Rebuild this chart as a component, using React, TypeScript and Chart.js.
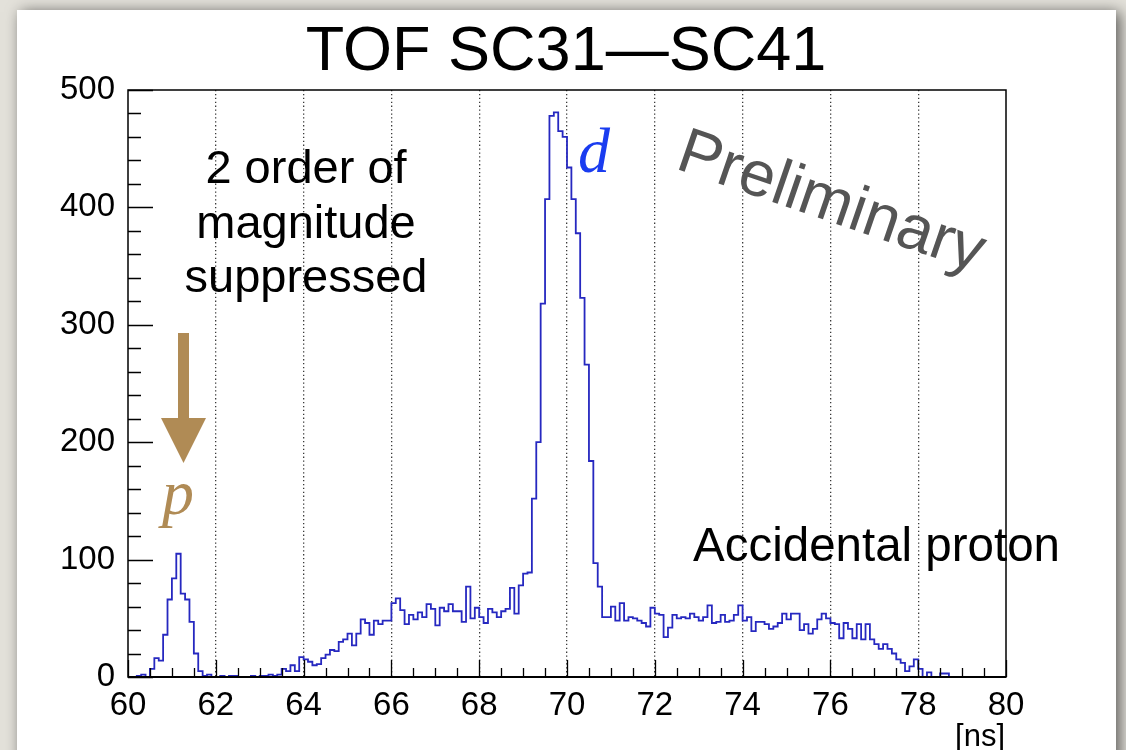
import React, { useEffect, useRef } from "react";
import { Chart, registerables } from "chart.js";

Chart.register(...registerables);

// Histogram binning: 200 bins of 0.1 ns from 60 to 80 ns
const BIN_START = 60;
const BIN_WIDTH = 0.1;
const X_MIN = 60;
const X_MAX = 80;
const Y_MIN = 0;
const Y_MAX = 500;

// Counts per bin (TOF SC31–SC41)
const COUNTS: number[] = [
  0, 0, 1, 2, 0, 7, 16, 14, 36, 66,
  84, 105, 71, 66, 47, 20, 5, 1, 2, 0,
  0, 1, 0, 1, 1, 0, 0, 0, 1, 0,
  1, 1, 2, 1, 2, 7, 5, 10, 5, 17,
  15, 13, 10, 11, 16, 19, 23, 22, 30, 32,
  37, 27, 37, 49, 46, 36, 48, 45, 48, 48,
  63, 67, 57, 45, 53, 49, 55, 51, 62, 58,
  44, 59, 56, 62, 56, 56, 47, 77, 50, 59,
  51, 46, 58, 55, 51, 56, 58, 76, 54, 78,
  88, 89, 152, 200, 318, 407, 478, 481, 465, 460,
  434, 407, 378, 323, 266, 184, 97, 77, 51, 51,
  60, 48, 63, 48, 51, 50, 48, 46, 43, 59,
  54, 53, 34, 42, 53, 50, 51, 50, 54, 51,
  48, 51, 61, 46, 47, 53, 47, 48, 53, 61,
  48, 51, 39, 47, 47, 45, 41, 43, 46, 54,
  49, 54, 54, 40, 45, 37, 41, 49, 54, 50,
  46, 45, 33, 46, 41, 33, 45, 32, 45, 32,
  28, 24, 28, 24, 20, 15, 12, 5, 9, 15,
  7, 0, 4, 0, 0, 3, 3, 0, 0, 0,
  0, 0, 0, 0, 0, 0, 0, 0, 0, 0,
];

// Axis ticks
const X_MAJOR_STEP = 2;
const X_MINOR_STEP = 0.5;
const Y_MAJOR_STEP = 100;
const Y_MINOR_STEP = 20;

// Text
const TITLE = "TOF SC31\u2014SC41";
const X_UNIT = "[ns]";
const NOTE_LINES = ["2 order of", "magnitude", "suppressed"];
const LABEL_D = "d";
const LABEL_P = "p";
const WATERMARK = "Preliminary";
const NOTE_ACCIDENTAL = "Accidental proton";

const SANS = '"Liberation Sans", Arial, Helvetica, sans-serif';
const SERIF = '"Liberation Serif", "Times New Roman", serif';
const BROWN = "#b08b55";

const W = 1126;
const H = 750;

const decorPlugin = {
  id: "decor",
  beforeDraw(chart: any) {
    const ctx = chart.ctx as CanvasRenderingContext2D;
    ctx.save();
    // slide backdrop
    ctx.fillStyle = "#e3e1da";
    ctx.fillRect(0, 0, W, H);
    // white panel with soft shadow
    ctx.shadowColor = "rgba(0,0,0,0.6)";
    ctx.shadowBlur = 14;
    ctx.shadowOffsetX = 4;
    ctx.shadowOffsetY = 2;
    ctx.fillStyle = "#ffffff";
    ctx.fillRect(17, 10, 1116 - 17, H + 40);
    ctx.restore();
  },
  afterDatasetsDraw(chart: any) {
    const ctx = chart.ctx as CanvasRenderingContext2D;
    const area = chart.chartArea;
    const xs = chart.scales.x;
    const ys = chart.scales.y;
    ctx.save();

    // inward tick marks
    ctx.strokeStyle = "#000";
    ctx.lineWidth = 1.3;
    ctx.beginPath();
    for (let v = Y_MIN; v <= Y_MAX + 1e-9; v += Y_MINOR_STEP) {
      const py = Math.round(ys.getPixelForValue(v)) + 0.5;
      const major = Math.abs(v / Y_MAJOR_STEP - Math.round(v / Y_MAJOR_STEP)) < 1e-6;
      const len = major ? 25 : 13;
      ctx.moveTo(area.left, py);
      ctx.lineTo(area.left + len, py);
    }
    for (let v = X_MIN; v <= X_MAX + 1e-9; v += X_MINOR_STEP) {
      const px = Math.round(xs.getPixelForValue(v)) + 0.5;
      const major = Math.abs(v / X_MAJOR_STEP - Math.round(v / X_MAJOR_STEP)) < 1e-6;
      const len = major ? 17 : 9;
      ctx.moveTo(px, area.bottom);
      ctx.lineTo(px, area.bottom - len);
    }
    ctx.stroke();

    // frame
    ctx.lineWidth = 1.5;
    ctx.strokeRect(area.left, area.top, area.right - area.left, area.bottom - area.top);
    ctx.lineWidth = 2.2;
    ctx.beginPath();
    ctx.moveTo(area.left, area.bottom);
    ctx.lineTo(area.right, area.bottom);
    ctx.stroke();

    // title
    ctx.fillStyle = "#000";
    ctx.textAlign = "center";
    ctx.textBaseline = "alphabetic";
    ctx.font = `63px ${SANS}`;
    ctx.fillText(TITLE, (area.left + area.right) / 2 - 1, 70);

    // axis unit
    ctx.textAlign = "right";
    ctx.font = `31px ${SANS}`;
    ctx.fillText(X_UNIT, area.right - 1, 746);

    // note block
    ctx.textAlign = "center";
    ctx.font = `47px ${SANS}`;
    const noteBase = [183, 238, 292];
    NOTE_LINES.forEach((t, i) => ctx.fillText(t, 306, noteBase[i]));

    // accidental protons
    ctx.textAlign = "left";
    ctx.font = `47.5px ${SANS}`;
    ctx.fillText(NOTE_ACCIDENTAL, 693, 561);

    // deuteron label
    ctx.fillStyle = "#1a3cf0";
    ctx.font = `italic 64px ${SERIF}`;
    ctx.fillText(LABEL_D, 578, 172);

    // proton arrow and label
    ctx.fillStyle = BROWN;
    ctx.fillRect(178, 333, 11, 87);
    ctx.beginPath();
    ctx.moveTo(161, 418);
    ctx.lineTo(206, 418);
    ctx.lineTo(183.5, 463);
    ctx.closePath();
    ctx.fill();
    ctx.font = `italic 64px ${SERIF}`;
    ctx.fillText(LABEL_P, 162, 514);

    // watermark
    ctx.save();
    ctx.translate(674, 168);
    ctx.rotate((19 * Math.PI) / 180);
    ctx.fillStyle = "#555555";
    ctx.font = `64px ${SANS}`;
    ctx.textAlign = "left";
    ctx.fillText(WATERMARK, 0, 0);
    ctx.restore();

    ctx.restore();
  },
};

export default function App() {
  const canvasRef = useRef<HTMLCanvasElement | null>(null);

  useEffect(() => {
    const canvas = canvasRef.current;
    if (!canvas) return;

    const points = COUNTS.map((c, i) => ({ x: BIN_START + i * BIN_WIDTH, y: c }));
    points.push({ x: BIN_START + COUNTS.length * BIN_WIDTH, y: COUNTS[COUNTS.length - 1] });

    const chart = new Chart(canvas, {
      type: "line",
      data: {
        datasets: [
          {
            data: points,
            stepped: "before",
            borderColor: "#2628c0",
            borderWidth: 1.8,
            pointRadius: 0,
            fill: false,
            tension: 0,
          },
        ],
      },
      options: {
        responsive: false,
        animation: false,
        devicePixelRatio: 1,
        layout: { padding: { left: 0, top: 90, right: W - 1006, bottom: 0 } },
        plugins: {
          legend: { display: false },
          tooltip: { enabled: false },
          title: { display: false },
        },
        scales: {
          x: {
            type: "linear",
            min: X_MIN,
            max: X_MAX,
            ticks: {
              stepSize: X_MAJOR_STEP,
              autoSkip: false,
              maxRotation: 0,
              color: "#000",
              padding: 9,
              font: { family: SANS, size: 33 },
              callback: (v: any) => String(v),
            },
            grid: {
              drawTicks: false,
              color: (c: any) =>
                c.tick && (c.tick.value === X_MIN || c.tick.value === X_MAX) ? "rgba(0,0,0,0)" : "#3a3a3a",
              lineWidth: 1.3,
            },
            border: { display: false, dash: [1.3, 2.6] },
            afterFit: (s: any) => {
              s.height = H - 677;
            },
          },
          y: {
            type: "linear",
            min: Y_MIN,
            max: Y_MAX,
            ticks: {
              stepSize: Y_MAJOR_STEP,
              color: "#000",
              padding: 13,
              font: { family: SANS, size: 33 },
            },
            grid: { display: false, drawTicks: false },
            border: { display: false },
            afterFit: (s: any) => {
              s.width = 128;
            },
          },
        },
      },
      plugins: [decorPlugin],
    });

    return () => chart.destroy();
  }, []);

  return (
    <div style={{ position: "fixed", left: 0, top: 0, width: W, height: H, overflow: "hidden" }}>
      <canvas ref={canvasRef} width={W} height={H} style={{ display: "block", width: W, height: H }} />
    </div>
  );
}
